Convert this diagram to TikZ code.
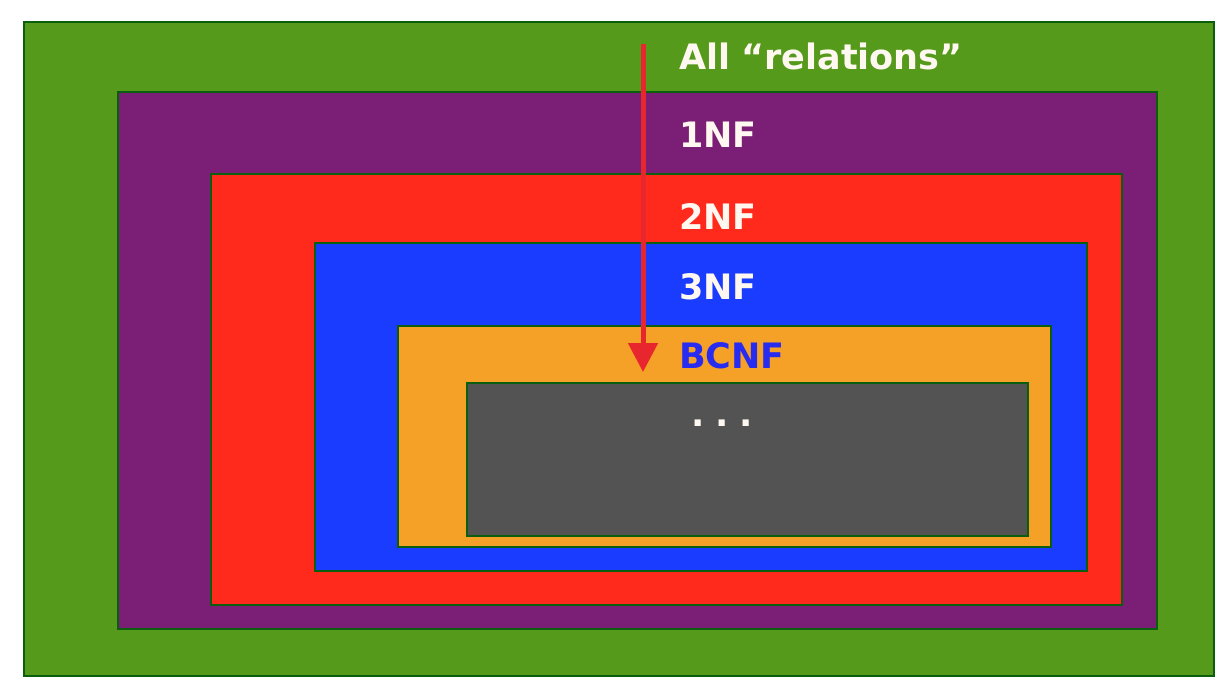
\documentclass[tikz,border=0pt]{standalone}
\usepackage{fontspec}
\setmainfont{DejaVu Sans}
\usetikzlibrary{arrows.meta}
\definecolor{cgreen}{RGB}{85,154,27}
\definecolor{cpurple}{RGB}{122,31,117}
\definecolor{cred}{RGB}{255,42,28}
\definecolor{cblue}{RGB}{26,60,255}
\definecolor{corange}{RGB}{245,160,38}
\definecolor{cgray}{RGB}{83,83,83}
\definecolor{cborder}{RGB}{10,94,14}
\definecolor{carrow}{RGB}{232,38,46}
\definecolor{ctext}{RGB}{255,248,240}
\definecolor{cbcnf}{RGB}{40,44,240}
\tikzset{
  box/.style={draw=cborder, line width=1.5pt},
  lbl/.style={anchor=base west, inner sep=0pt, font=\fontsize{35pt}{40pt}\selectfont\bfseries, text=ctext},
}
\begin{document}
\begin{tikzpicture}[x=1pt,y=-1pt]
\fill[white] (0,0) rectangle (1224,690);
\useasboundingbox (0,0) rectangle (1224,690);
\draw[box, fill=cgreen] (24,22) rectangle (1214,676);
\draw[box, fill=cpurple] (118,92) rectangle (1157,629);
\draw[box, fill=cred] (211,174) rectangle (1122,605);
\draw[box, fill=cblue] (315,243) rectangle (1087,571);
\draw[box, fill=corange] (398,326) rectangle (1051,547);
\draw[box, fill=cgray] (467,383) rectangle (1028,536);
\node[lbl] (all) at (679,70) {All\hspace{-1pt} “relations”};
\node[lbl] (one) at (679,148) {1NF};
\node[lbl] (two) at (679,229) {2NF};
\node[lbl] (three) at (679,299) {3NF};
\node[lbl, text=cbcnf] (bcnf) at (679,368) {BCNF};
\node[lbl] (dots) at (691,426) {.\hspace{10.7pt}.\hspace{10.7pt}.};
\coordinate (astart) at (643,44);
\coordinate (aend) at (643,372);
\draw[carrow, line width=5pt, -{Triangle[width=29pt,length=29pt]}] (astart) -- (aend);
\end{tikzpicture}
\end{document}
